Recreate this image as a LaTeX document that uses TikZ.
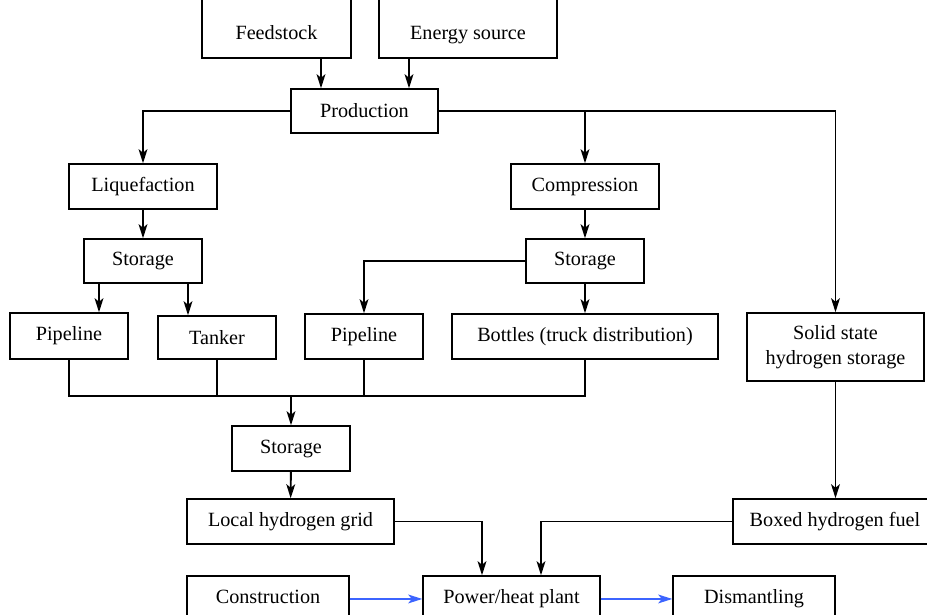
\documentclass[tikz,border=0pt]{standalone}
\usepackage{fontspec}
\setmainfont{Liberation Serif}
\usepackage{tikz}
\usetikzlibrary{arrows.meta}

\tikzset{
  blk/.style={draw, line width=0.8pt, rectangle, inner sep=0pt, align=center,
    minimum height=0.9cm, font=\fontsize{11.5}{14}\selectfont},
  topblk/.style={blk, anchor=base, text height=1cm, text depth=0.36cm},
  botblk/.style={blk, anchor=base, text height=0.54cm, text depth=1cm},
  arr/.style={-{Stealth[length=8pt,width=5pt,inset=2pt]}, line width=1.1pt},
  lin/.style={line width=1.1pt},
  barr/.style={arr, draw={rgb,255:red,60;green,100;blue,255}}
}

\begin{document}
\begin{tikzpicture}[x=0.02cm,y=-0.02cm]
	\clip (0,0) rectangle (927,615);
	\useasboundingbox (0,0) rectangle (927,615);
	% boxes
	\node[topblk, minimum width=2.98cm] (feed) at (276.5,40) {Feedstock};
	\node[topblk, minimum width=3.56cm] (energy) at (468,40) {Energy source};
	\node[blk, minimum width=2.94cm, minimum height=0.88cm] (prod) at (364.5,111) {Production};
	\node[blk, minimum width=2.96cm] (liq) at (143,186.5) {Liquefaction};
	\node[blk, minimum width=2.96cm] (comp) at (585,186.5) {Compression};
	\node[blk, minimum width=2.36cm, minimum height=0.88cm] (stoL) at (143,261) {Storage};
	\node[blk, minimum width=2.36cm, minimum height=0.88cm] (stoR) at (585,261) {Storage};
	\node[blk, minimum width=2.36cm, minimum height=0.92cm] (pipeL) at (69,336) {Pipeline};
	\node[blk, minimum width=2.36cm, minimum height=0.86cm] (tank) at (217,337.5) {Tanker};
	\node[blk, minimum width=2.36cm, minimum height=0.9cm] (pipeR) at (364,336.5) {Pipeline};
	\node[blk, minimum width=5.32cm, minimum height=0.9cm] (bott) at (585,336.5) {Bottles (truck distribution)};
	\node[blk, minimum width=3.54cm, minimum height=1.36cm] (solid) at (835.5,347) {Solid state\\hydrogen storage};
	\node[blk, minimum width=2.36cm] (stoB) at (291,448.5) {Storage};
	\node[blk, minimum width=4.14cm] (grid) at (290.5,521.5) {Local hydrogen grid};
	\node[blk, minimum width=4.08cm] (boxed) at (835,521.5) {Boxed hydrogen fuel};
	\node[botblk, minimum width=3.24cm] (constr) at (268,603) {Construction};
	\node[botblk, minimum width=3.54cm] (plant) at (511.5,603) {Power/heat plant};
	\node[botblk, minimum width=3.24cm] (dism) at (754,603) {Dismantling};
	\coordinate (j) at (291,396);
	% connectors
	\draw[arr] (feed.south -| 321,0) -- (prod.north -| 321,0);
	\draw[arr] (energy.south -| 409,0) -- (prod.north -| 409,0);
	\draw[arr] (prod.west) -| (liq.north);
	\draw[arr] (prod.east) -| (comp.north);
	\draw[arr] (prod.east) -| (solid.north);
	\draw[arr] (liq) -- (stoL);
	\draw[arr] (comp) -- (stoR);
	\draw[arr] (stoL.south -| 99,0) -- (pipeL.north -| 99,0);
	\draw[arr] (stoL.south -| 188,0) -- (tank.north -| 188,0);
	\draw[arr] (stoR.west) -| (pipeR.north);
	\draw[arr] (stoR) -- (bott);
	\draw[lin] (pipeL.south) |- (j) -| (bott.south);
	\draw[lin] (tank.south) -- (tank.south |- j);
	\draw[lin] (pipeR.south) -- (pipeR.south |- j);
	\draw[arr] (j) -- (stoB);
	\draw[arr] (stoB) -- (grid);
	\draw[arr] (solid) -- (solid |- boxed.north);
	\draw[arr] (grid.east) -| (plant.north -| 482,0);
	\draw[arr] (boxed.west) -| (plant.north -| 541,0);
	\draw[barr] (constr.mid east) -- (plant.mid west);
	\draw[barr] (plant.mid east) -- (dism.mid west);
\end{tikzpicture}
\end{document}
